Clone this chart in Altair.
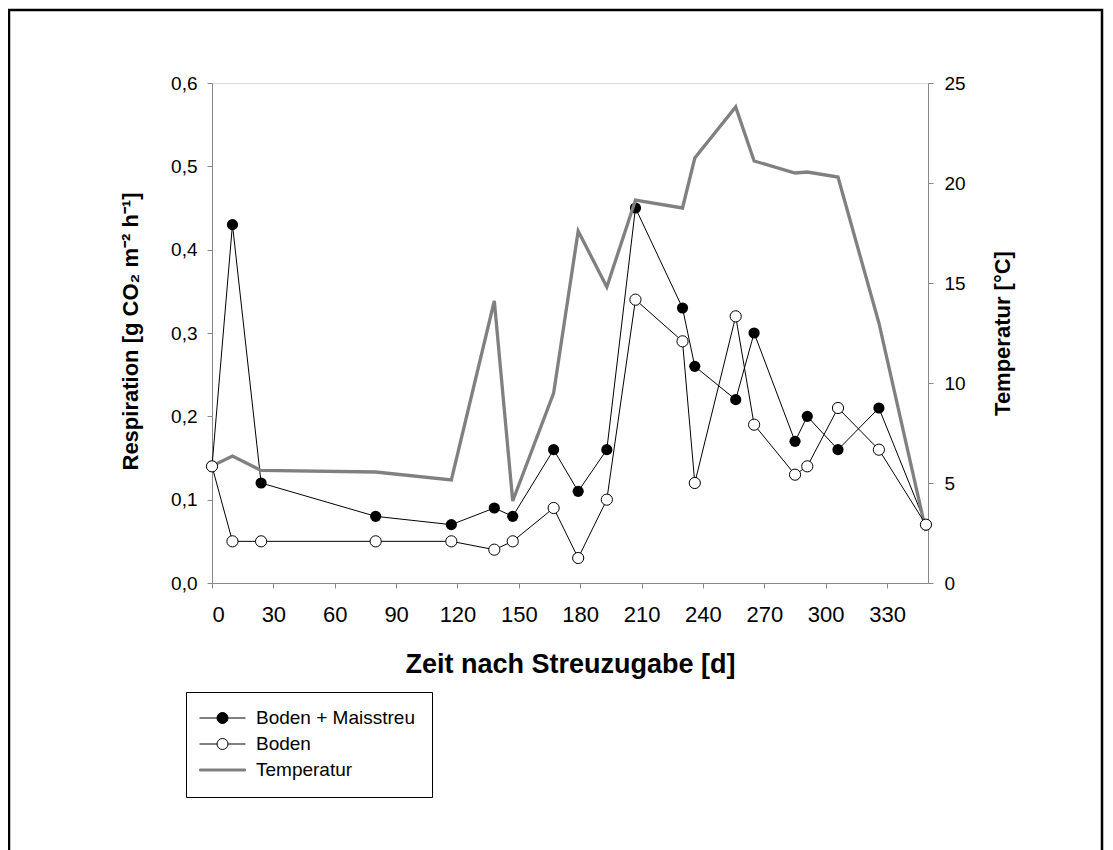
import altair as alt
import pandas as pd

# ---------------- data ----------------
days = [0, 10, 24, 80, 117, 138, 147, 167, 179, 193, 207, 230, 236, 256, 265, 285, 291, 306, 326, 349]
resp_mais = [0.14, 0.43, 0.12, 0.08, 0.07, 0.09, 0.08, 0.16, 0.11, 0.16, 0.45, 0.33, 0.26, 0.22, 0.30, 0.17, 0.20, 0.16, 0.21, 0.07]
resp_boden = [0.14, 0.05, 0.05, 0.05, 0.05, 0.04, 0.05, 0.09, 0.03, 0.10, 0.34, 0.29, 0.12, 0.32, 0.19, 0.13, 0.14, 0.21, 0.16, 0.07]
temperatur = [5.85, 6.35, 5.63, 5.55, 5.15, 14.1, 4.1, 9.5, 17.6, 14.8, 19.15, 18.75, 21.25, 23.8, 21.1, 20.5, 20.55, 20.3, 13.0, 2.6]

series_names = ["Boden + Maisstreu", "Boden", "Temperatur"]
x_ticks = [0, 30, 60, 90, 120, 150, 180, 210, 240, 270, 300, 330]
y_left_ticks = [0.0, 0.1, 0.2, 0.3, 0.4, 0.5, 0.6]
y_right_ticks = [0, 5, 10, 15, 20, 25]

FONT = "Liberation Sans"
GREY = "#808080"

df_mais = pd.DataFrame({"day": days, "resp": resp_mais})
df_boden = pd.DataFrame({"day": days, "resp": resp_boden})
df_temp = pd.DataFrame({"day": days, "temp": temperatur})
df_leg = pd.DataFrame({"series": series_names})

W, H = 716, 500

x_enc = alt.X("day:Q", scale=alt.Scale(domain=[0, 350], nice=False, zero=False),
              axis=alt.Axis(values=x_ticks, title="Zeit nach Streuzugabe [d]", grid=False,
                            labelFontSize=22, labelPadding=16,
                            titleFontSize=27, titleY=81, titleBaseline="middle"))

y_left_scale = alt.Scale(domain=[0, 0.6], nice=False, zero=False)
y_left = alt.Y("resp:Q", scale=y_left_scale,
               axis=alt.Axis(values=y_left_ticks, grid=False,
                             labelExpr="replace(format(datum.value, '.1f'), '.', ',')",
                             title="Respiration [g CO₂ m⁻² h⁻¹]",
                             labelFontSize=19, labelPadding=10,
                             titleFontSize=22, titleX=-82, titleY=248,
                             titleBaseline="middle", titleAlign="center", titleAngle=270))
y_left_noaxis = alt.Y("resp:Q", scale=y_left_scale, axis=None)

# outer frame (decoration)
frame = alt.Chart(pd.DataFrame({"a": [0]})).mark_rect(
    fill=None, stroke="black", strokeWidth=2.5
).encode(x=alt.value(-203), x2=alt.value(890), y=alt.value(-73), y2=alt.value(790))

mais_line = alt.Chart(df_mais).mark_line(color="black", strokeWidth=1).encode(x=x_enc, y=y_left)
mais_pts = alt.Chart(df_mais).mark_point(shape="circle", filled=True, color="black",
                                         size=125, opacity=1).encode(x="day:Q", y="resp:Q")
mais_group = alt.layer(frame, mais_line, mais_pts)

temp_line = alt.Chart(df_temp).mark_line(color=GREY, strokeWidth=3.3).encode(
    x="day:Q",
    y=alt.Y("temp:Q", scale=alt.Scale(domain=[0, 25], nice=False, zero=False),
            axis=alt.Axis(orient="right", values=y_right_ticks, title="Temperatur [°C]", grid=False,
                          labelFontSize=19, labelPadding=11,
                          titleFontSize=22, titleX=74, titleY=250,
                          titleBaseline="middle", titleAlign="center", titleAngle=270))
)

boden_line = alt.Chart(df_boden).mark_line(color="black", strokeWidth=1).encode(x="day:Q", y=y_left_noaxis)
boden_pts = alt.Chart(df_boden).mark_point(shape="circle", filled=True, fill="white", stroke="black",
                                           strokeWidth=1, size=125, opacity=1).encode(
    x="day:Q", y=y_left_noaxis)
boden_group = alt.layer(boden_line, boden_pts)

# legend symbols (custom paths: line + circle, thick line)
p_circle = "M-1.389,0L0.556,0M1.778,0L3.722,0M0.556,0A0.611,0.611 0 1 1 1.778,0A0.611,0.611 0 1 1 0.556,0Z"
p_line = "M-1.389,-0.11L3.722,-0.11L3.722,0.11L-1.389,0.11Z"

leg = alt.Legend(title=None, orient="none", legendX=-26, legendY=609,
                 fillColor="white", strokeColor="black", padding=16.5,
                 symbolSize=324, symbolStrokeWidth=1, symbolOpacity=1,
                 labelOffset=34.5, rowPadding=6, labelFontSize=19, labelFont=FONT,
                 labelColor="black", labelLimit=400)

legend_layer = alt.Chart(df_leg).mark_point(opacity=0).encode(
    shape=alt.Shape("series:N", scale=alt.Scale(domain=series_names, range=[p_circle, p_circle, p_line]),
                    legend=leg),
    fill=alt.Fill("series:N", scale=alt.Scale(domain=series_names, range=["black", "white", GREY]),
                  legend=leg),
    stroke=alt.Stroke("series:N", scale=alt.Scale(domain=series_names, range=["black", "black", GREY]),
                      legend=leg),
)

chart = alt.layer(mais_group, temp_line, boden_group, legend_layer).resolve_scale(
    y="independent"
).properties(
    width=W, height=H,
    autosize=alt.AutoSizeParams(type="none"),
    padding={"left": 204, "top": 75, "right": 177, "bottom": 267},
).configure_view(
    stroke="black", strokeWidth=1
).configure_axis(
    grid=False, domainColor="black", domainWidth=1, tickColor="black", tickSize=7, tickWidth=1,
    labelColor="black", titleColor="black", labelFont=FONT, titleFont=FONT, titleFontWeight="bold",
).configure(background="white")

chart.save("out.html", embed_options={"renderer": "svg", "actions": False})
